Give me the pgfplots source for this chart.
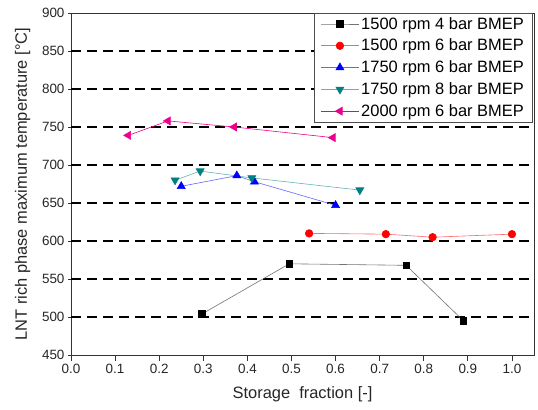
\documentclass[border=0pt]{standalone}
\usepackage{fontspec}
\setmainfont{Liberation Sans}
\usepackage{pgfplots}
\pgfplotsset{compat=1.18}
\begin{document}
\begin{tikzpicture}
\begin{axis}[
  scale only axis,
  width=463bp, height=342bp,
  xmin=0, xmax=1.05, ymin=450, ymax=900,
  xtick={0,0.1,...,1.0},
  ytick={450,500,...,900},
  xticklabel style={/pgf/number format/.cd,fixed,fixed zerofill,precision=1},
  /pgf/number format/assume math mode=true,
  tick label style={font=\fontsize{13.5}{15}\selectfont, color=black!85},
  label style={font=\fontsize{16.5}{19}\selectfont, color=black!85},
  xlabel={Storage\ \ fraction [-]},
  ylabel={LNT rich phase maximum temperature [°C]},
  xlabel style={yshift=-6bp},
  ylabel style={yshift=2bp},
  xtick pos=bottom, ytick pos=left,
  xtick align=outside, ytick align=center,
  major tick length=6bp,
  tick style={line width=0.9pt, color=black!80},
  axis line style={line width=0.9pt, color=black!80},
  extra y ticks={500,550,...,850},
  extra y tick labels={},
  extra y tick style={ymajorgrids=true, major tick length=0pt,
    major grid style={black, line width=1.3pt, dash pattern=on 10bp off 6bp}},
  legend style={at={(0.996,1)}, anchor=north east, font=\fontsize{16.5}{18}\selectfont,
    draw=black!70, line width=0.6pt, cells={anchor=west}, row sep=4.4bp,
    inner xsep=6bp, inner ysep=2bp},
  legend image code/.code={\draw[mark repeat=2,mark phase=2,#1] plot coordinates {(0bp,0bp) (19bp,0bp) (38bp,0bp)};},
]
\addplot[color=black!55, line width=0.6pt, mark=square*, mark size=3.3bp, mark options={fill=black, draw=black}]
  coordinates {(0.297,504) (0.495,570) (0.76,568) (0.89,495)};
\addlegendentry{1500 rpm 4 bar BMEP}
\addplot[color=red!60, line width=0.6pt, mark=*, mark size=3.8bp, mark options={fill=red, draw=red}]
  coordinates {(0.54,610) (0.714,609) (0.82,605) (1.0,609)};
\addlegendentry{1500 rpm 6 bar BMEP}
\addplot[color=blue!60, line width=0.6pt, mark=triangle*, mark size=4.6bp, mark options={fill=blue, draw=blue}]
  coordinates {(0.25,672) (0.376,686) (0.416,678) (0.60,647)};
\addlegendentry{1750 rpm 6 bar BMEP}
\addplot[color=teal!60, line width=0.6pt, mark=triangle*, mark size=4.6bp, mark options={fill=teal, draw=teal, rotate=180}]
  coordinates {(0.236,680) (0.293,692) (0.41,683) (0.655,667)};
\addlegendentry{1750 rpm 8 bar BMEP}
\addplot[color=magenta, line width=0.6pt, mark=triangle*, mark size=4.6bp, mark options={fill=magenta, draw=magenta, rotate=90}]
  coordinates {(0.13,739) (0.22,758) (0.37,750) (0.594,736)};
\addlegendentry{2000 rpm 6 bar BMEP}
\coordinate (A) at (rel axis cs:0,0);
\coordinate (B) at (rel axis cs:1,1);
\end{axis}
\path (A) ++(-71bp,-55bp) coordinate (LL);
\path (B) ++(4bp,13bp) coordinate (UR);
\pgfresetboundingbox
\useasboundingbox (LL) rectangle (UR);
\end{tikzpicture}
\end{document}
